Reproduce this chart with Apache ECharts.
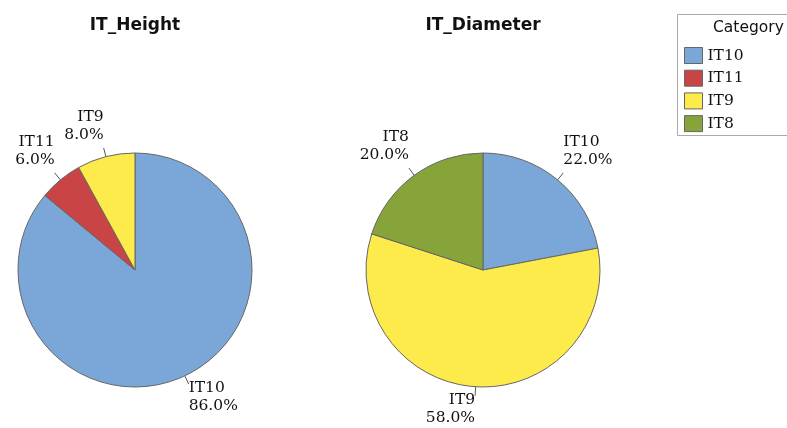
<!DOCTYPE html>
<html>
<head>
<meta charset="utf-8">
<script src="https://cdn.jsdelivr.net/npm/echarts@6/dist/echarts.min.js"></script>
<style>
  html, body { margin: 0; padding: 0; background: #fff; }
  #pie-chart { width: 787px; height: 428px; }
</style>
</head>
<body>
<div id="pie-chart"></div>
<script>
const categories = ["IT10", "IT11", "IT9", "IT8"];
const colors = {
  IT10: "#7ba6d8",
  IT11: "#c94445",
  IT9: "#fdea4b",
  IT8: "#87a43a",
};

const heightNames = ["IT10", "IT11", "IT9"];
const heightValues = [86, 6, 8];

const diameterNames = ["IT10", "IT9", "IT8"];
const diameterValues = [22, 58, 20];

const R = 117;
const LINE_LEN = 9;

const chart = echarts.init(document.getElementById("pie-chart"));

function toData(names, values) {
  return names.map((n, i) => ({
    name: n,
    value: values[i],
    itemStyle: { color: colors[n] },
  }));
}

// Minitab style labels: short radial tick, text placed off the tick's corner
function labelPlacer(center, values) {
  const total = values.reduce((a, b) => a + b, 0);
  return (params) => {
    const i = params.dataIndex;
    let before = 0;
    for (let j = 0; j < i; j++) before += values[j];
    const mid = ((before + values[i] / 2) / total) * Math.PI * 2;
    const sx = Math.sin(mid);
    const sy = -Math.cos(mid);
    const edge = [center[0] + R * sx, center[1] + R * sy];
    const end = [center[0] + (R + LINE_LEN) * sx, center[1] + (R + LINE_LEN) * sy];
    const below = sy > 0;
    return {
      x: end[0],
      y: end[1] + (below ? -5 : -4),
      align: sx > 0 ? "left" : "right",
      verticalAlign: below ? "top" : "bottom",
      labelLinePoints: [edge, end, end],
    };
  };
}

function pieSeries(name, center, names, values) {
  return {
    type: "pie",
    name: name,
    center: center,
    radius: R,
    startAngle: 90,
    clockwise: true,
    animation: false,
    data: toData(names, values),
    itemStyle: { borderColor: "#666", borderWidth: 1 },
    label: {
      formatter: (p) => p.name + "\n" + p.value.toFixed(1) + "%",
      fontFamily: "DejaVu Serif",
      fontSize: 15.5,
      lineHeight: 18,
      color: "#111",
      overflow: "none",
    },
    labelLine: {
      length: LINE_LEN,
      length2: 0,
      lineStyle: { color: "#555", width: 1 },
    },
    labelLayout: labelPlacer(center, values),
    emphasis: { disabled: true },
  };
}

const titleStyle = { fontFamily: "DejaVu Sans", fontSize: 17, fontWeight: "bold", fill: "#111" };

const option = {
  backgroundColor: "#fff",
  graphic: [
    {
      type: "text",
      x: 135,
      y: 17,
      style: Object.assign({ text: "IT_Height", textAlign: "center" }, titleStyle),
    },
    {
      type: "text",
      x: 483,
      y: 17,
      style: Object.assign({ text: "IT_Diameter", textAlign: "center" }, titleStyle),
    },
    {
      type: "rect",
      shape: { x: 677.5, y: 14.5, width: 115, height: 121 },
      style: { fill: "#fff", stroke: "#aaa", lineWidth: 1 },
      z: 0,
    },
    {
      type: "text",
      left: 713,
      top: 20,
      style: { text: "Category", fontFamily: "DejaVu Sans", fontSize: 15.5, fill: "#111" },
      z: 1,
    },
  ],
  legend: {
    data: categories,
    orient: "vertical",
    left: 684,
    top: 47,
    padding: 0,
    itemWidth: 18,
    itemHeight: 16,
    itemGap: 5.7,
    icon: "rect",
    itemStyle: { borderColor: "#666", borderWidth: 1 },
    textStyle: { fontFamily: "DejaVu Serif", fontSize: 15.5, lineHeight: 16, color: "#111" },
    selectedMode: false,
    z: 5,
  },
  series: [
    pieSeries("IT_Height", [135, 270], heightNames, heightValues),
    pieSeries("IT_Diameter", [483, 270], diameterNames, diameterValues),
  ],
};

chart.setOption(option);
</script>
</body>
</html>
